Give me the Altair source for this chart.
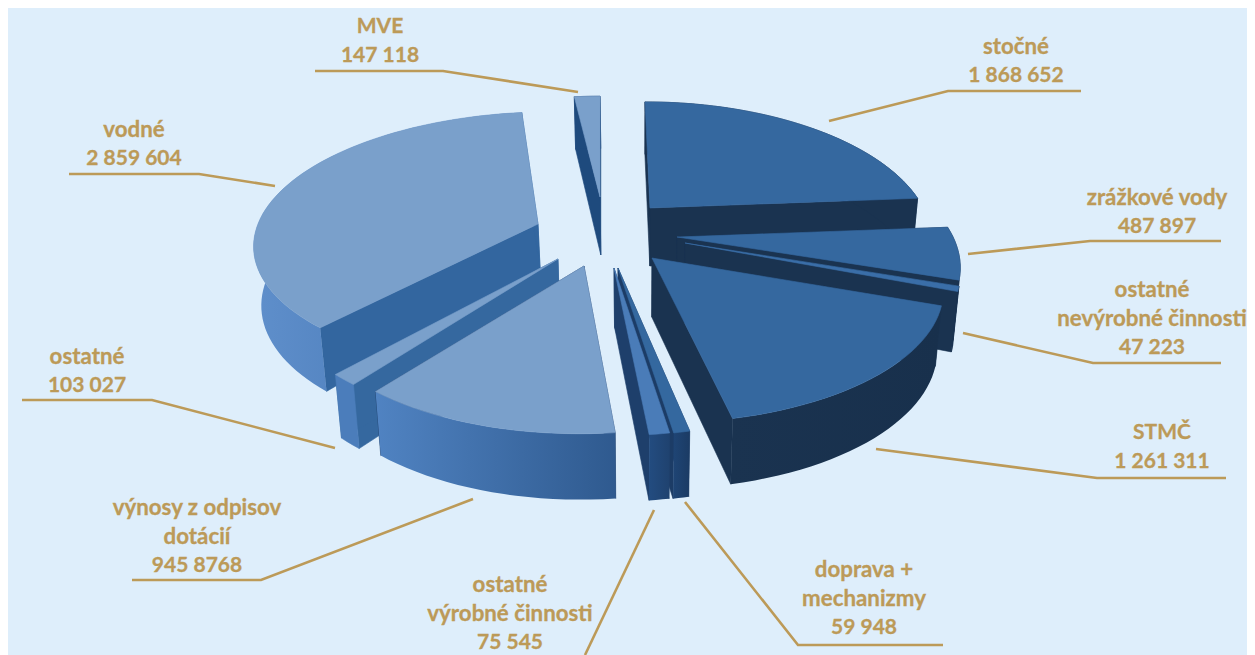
import math
import altair as alt
import pandas as pd

# ---- data (clockwise from the top) ----
names = ["stočné", "zrážkové vody", "ostatné nevýrobné činnosti", "STMČ", "doprava + mechanizmy",
         "ostatné výrobné činnosti", "výnosy z odpisov dotácií", "ostatné", "vodné", "MVE"]
values = [1868652, 487897, 47223, 1261311, 59948, 75545, 945877, 103027, 2859604, 147118]

# exploded apex of every slice
apex_x = [650, 677, 685, 652, 618, 614, 584, 558, 538, 600]
apex_y = [208, 237, 243, 258, 268, 268, 266, 259, 224, 197]
apex_depth = [58, 58, 58, 59, 59, 59, 59, 59, 44, 58]
scale_x = [1.02, 1.03, 1.0, 1.055, 1.0, 1.0, 1.03, 1.03, 1.045, 1.0]
scale_y = [1.0, 1.0, 1.0, 0.985, 1.0, 1.0, 1.0, 1.0, 0.975, 0.95]
persp = [0.225, 0.225, 0.225, 0.225, 0.225, 0.225, 0.225, 0.225, 0.13, 0.225]
shear = [5, 0, 0, 5, 0, 0, -5, 0, -13, 0]

top_colors = ["#35689F", "#35689F", "#3A6EA8", "#35689F", "#34689F", "#4A7CB8", "#7AA0CB", "#7AA0CB", "#7AA0CB", "#7AA0CB"]
cut_colors = ["#1A3350", "#1A3350", "#1A3350", "#1A3350", "#1C3C66", "#1E3F6B", "#1E3F6B", "#35689F", "#33669F", "#1E4A7D"]
outer_left = ["#1A3350", "#1A3350", "#1A3350", "#1A3350", "#1F4575", "#234C80", "#5083C2", "#4B7DBB", "#5F8FCB", "#1E4A7D"]
outer_right = ["#1A3350", "#1A3350", "#1A3350", "#18304C", "#1B3B64", "#1F426F", "#2F5A8F", "#4B7DBB", "#3F70AE", "#1E4A7D"]
draw_order = [9, 0, 1, 2, 3, 8, 7, 6, 4, 5]

label_lines = [
    ["MVE", "147 118"], ["stočné", "1 868 652"], ["zrážkové vody", "487 897"],
    ["ostatné", "nevýrobné činnosti", "47 223"], ["STMČ", "1 261 311"],
    ["doprava +", "mechanizmy", "59 948"], ["ostatné", "výrobné činnosti", "75 545"],
    ["výnosy z odpisov", "dotácií", "945 8768"], ["ostatné", "103 027"], ["vodné", "2 859 604"],
]
label_x = [380, 1016, 1157, 1152, 1162, 864, 510, 197, 87, 134]
label_y = [27, 47, 198, 290, 433, 570, 585, 508, 357, 130]
label_step = 28.8

leaders = [
    [(315, 71), (443, 71), (578, 92)], [(1081, 91), (948, 91), (829, 121)],
    [(1221, 241), (1090, 241), (968, 254)], [(1221, 363), (1093, 363), (963, 333)],
    [(1226, 478), (1097, 478), (876, 449)], [(943, 645), (798, 645), (685, 502)],
    [(654, 510), (585, 655)], [(132, 580), (261, 580), (473, 499)],
    [(22, 400), (152, 400), (335, 448)], [(69, 174), (199, 174), (275, 186)],
]

BG = "#DEEEFB"
GOLD = "#BC9A58"
RX, RY, DEPTH = 268.0, 130.0, 58.0
VANISH_X, CONVERGE = 640.0, 0.02

x_scale = alt.Scale(domain=[8, 1247], nice=False, zero=False)
y_scale = alt.Scale(domain=[8, 655], nice=False, zero=False, reverse=True)


def rim(i, t):
    a = math.radians(t)
    X, Y = math.sin(a), -math.cos(a)
    s = 1 / (1 - persp[i] * Y)
    return (apex_x[i] + scale_x[i] * RX * X * s + shear[i] * Y,
            apex_y[i] + scale_y[i] * RY * Y * s, 1 / (1 - 0.225 * Y))


def drop(px, py, d):
    return px + CONVERGE * (VANISH_X - px), py + d


def poly(points, fill):
    df = pd.DataFrame({"x": [p[0] for p in points], "y": [p[1] for p in points], "i": range(len(points))})
    kw = {"fill": fill, "interpolate": "linear-closed", "strokeWidth": 0.6}
    if isinstance(fill, str):
        kw["stroke"] = fill
    else:
        kw["strokeOpacity"] = 0
    return alt.Chart(df).mark_line(**kw).encode(
        x=alt.X("x:Q", scale=x_scale, axis=None),
        y=alt.Y("y:Q", scale=y_scale, axis=None),
        order=alt.Order("i:Q"),
    )


total = sum(values)
layers = []
bounds = [0]
for v in values:
    bounds.append(bounds[-1] + 360 * v / total)

for i in draw_order:
    t0, t1 = bounds[i], bounds[i + 1]
    n = max(3, int((t1 - t0) / 2))
    ts = [t0 + (t1 - t0) * k / n for k in range(n + 1)]
    up = [rim(i, t) for t in ts]
    top_rim = [(p[0], p[1]) for p in up]
    low_rim = [drop(p[0], p[1], DEPTH * math.sqrt(p[2])) for p in up]
    A = (apex_x[i], apex_y[i])
    B = drop(A[0], A[1], apex_depth[i])
    layers.append(poly([A, top_rim[0], low_rim[0], B], cut_colors[i]))
    layers.append(poly([A, top_rim[-1], low_rim[-1], B], cut_colors[i]))
    if outer_left[i] == outer_right[i]:
        outer_fill = outer_left[i]
    else:
        outer_fill = alt.Gradient(gradient="linear", x1=0, x2=1, y1=0, y2=0,
                                  stops=[alt.GradientStop(offset=0, color=outer_left[i]),
                                         alt.GradientStop(offset=1, color=outer_right[i])])
    layers.append(poly(top_rim + low_rim[::-1], outer_fill))
    layers.append(poly([A] + top_rim, top_colors[i]))

lead_rows = []
for k, pts in enumerate(leaders):
    for j, (x, y) in enumerate(pts):
        lead_rows.append({"x": x, "y": y, "k": k, "i": j})
layers.append(alt.Chart(pd.DataFrame(lead_rows)).mark_line(color=GOLD, strokeWidth=2.6).encode(
    x=alt.X("x:Q", scale=x_scale, axis=None),
    y=alt.Y("y:Q", scale=y_scale, axis=None),
    detail="k:N", order=alt.Order("i:Q")))

text_rows = []
for k, lines in enumerate(label_lines):
    for j, t in enumerate(lines):
        is_word = any(c.islower() for c in t)
        text_rows.append({"x": label_x[k], "y": label_y[k] + j * label_step, "t": t, "fs": 22.3 if is_word else 21})
layers.append(alt.Chart(pd.DataFrame(text_rows)).mark_text(
    font="Lato", fontWeight="bold", color=GOLD, align="center", baseline="middle",
    stroke=GOLD, strokeWidth=0.3).encode(
    x=alt.X("x:Q", scale=x_scale, axis=None),
    y=alt.Y("y:Q", scale=y_scale, axis=None),
    size=alt.Size("fs:Q", scale=None, legend=None),
    text="t:N"))

chart = alt.layer(*layers).properties(width=1239, height=647, background=BG, padding=0).configure_view(stroke=None)
chart.save("out.html", embed_options={"renderer": "svg", "actions": False})
